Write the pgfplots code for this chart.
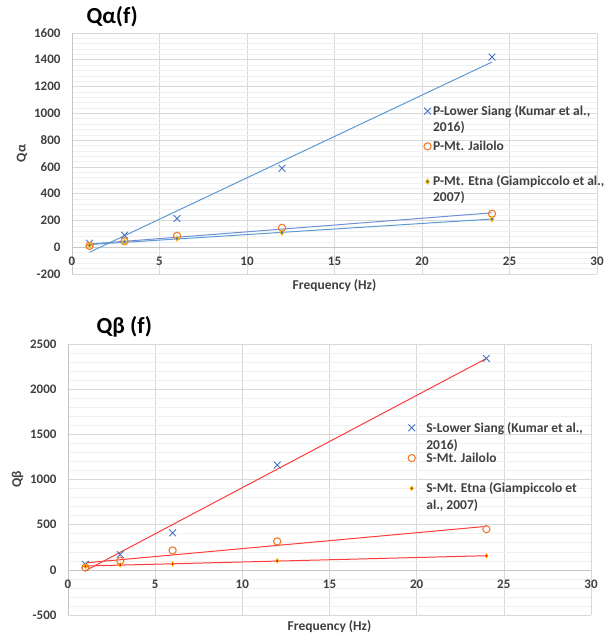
\documentclass[border=0pt]{standalone}
\usepackage{fontspec}
\setmainfont{Carlito}
\usepackage{pgfplots}
\usepackage{pgfplotstable}
\pgfplotsset{compat=1.18}
\definecolor{xblue}{HTML}{4472C4}
\definecolor{lblue}{HTML}{5B9BD5}
\definecolor{jblue}{HTML}{6F8FD8}
\definecolor{xorange}{HTML}{ED7D31}
\definecolor{xgold}{HTML}{FFC000}
\definecolor{tred}{HTML}{FF3B3B}
\newcommand{\twol}[3]{\makebox[0pt][l]{\raisebox{-#3}[0pt][0pt]{#2}}#1}

\pgfplotstableread{
f Q
1 30
3 90
6 215
12 590
24 1420
}\PLS
\pgfplotstableread{
f Q
1 10
3 45
6 85
12 145
24 250
}\PJ
\pgfplotstableread{
f Q
1 15
3 40
6 65
12 110
24 210
}\PE
\pgfplotstableread{
f Q
1 60
3 170
6 410
12 1160
24 2340
}\SLS
\pgfplotstableread{
f Q
1 25
3 100
6 215
12 315
24 450
}\SJ
\pgfplotstableread{
f Q
1 40
3 55
6 65
12 100
24 155
}\SE

\pgfplotsset{
  common/.style={
    scale only axis,
    xmin=0, xmax=30, xtick={0,5,...,30},
    axis x line*=middle, axis y line*=left,
    hide obscured x ticks=false, hide obscured y ticks=false,
    axis line style={draw=gray!45},
    major tick length=0pt, minor tick length=0pt,
    xmajorgrids, ymajorgrids, yminorgrids, minor y tick num=4,
    major grid style={draw=gray!30, line width=0.6pt},
    minor grid style={draw=gray!12, line width=0.5pt},
    tick label style={font=\bfseries\fontsize{13}{15}\selectfont, text=black!75},
    yticklabel style={xshift=-8pt},
    /pgf/number format/assume math mode=true,
    /pgf/number format/1000 sep={},
    xlabel={Frequency (Hz)},
    xlabel style={at={(rel axis cs:0.5,0)}, anchor=north, yshift=-2pt, font=\bfseries\fontsize{13.5}{15}\selectfont, text=black!75},
    ylabel style={font=\bfseries\fontsize{13.5}{15}\selectfont, text=black!75},
    legend cell align=left,
    legend style={draw=none, fill=none, font=\bfseries\fontsize{13.5}{15}\selectfont, text=black!75,
      inner sep=0pt},
    title style={font=\bfseries\fontsize{23}{26}\selectfont, text=black},
  },
}

\begin{document}
\begin{tikzpicture}
% top
\begin{axis}[common,
  at={(0pt,0pt)}, anchor=south west, width=525pt, height=241pt,
  ymin=-200, ymax=1600, ytick={-200,0,...,1600},
  xticklabel style={yshift=-6pt},
  ylabel={Qα},
  title={Qα(f)},
  title style={at={(rel axis cs:0.021,1)}, anchor=base west, yshift=3pt},
  legend style={at={(rel axis cs:0.670,0.709)}, anchor=north west, row sep=20pt},
]
\addplot[lblue, line width=1pt, forget plot] table[x=f, y={create col/linear regression={y=Q}}] {\PLS};
\addplot[jblue, line width=1pt, forget plot] table[x=f, y={create col/linear regression={y=Q}}] {\PJ};
\addplot[lblue, line width=1pt, forget plot] table[x=f, y={create col/linear regression={y=Q}}] {\PE};
\addplot[only marks, mark=x, mark size=4.8pt, xblue, mark options={line width=0.9pt}] table[x=f,y=Q] {\PLS};
\addlegendentry{\twol{P-Lower Siang (Kumar et al.,}{2016)}{16pt}}
\addplot[only marks, mark=o, mark size=3.6pt, xorange, mark options={line width=1.1pt}] table[x=f,y=Q] {\PJ};
\addlegendentry{P-Mt. Jailolo}
\addplot[only marks, mark=diamond*, mark size=2.6pt, mark options={draw=xgold, fill=xblue, line width=0.8pt}] table[x=f,y=Q] {\PE};
\addlegendentry{\twol{P-Mt. Etna (Giampiccolo et al.,}{2007)}{16pt}}
\end{axis}
% bottom
\begin{axis}[common,
  at={(-4pt,-341pt)}, anchor=south west, width=523pt, height=271pt,
  ymin=-500, ymax=2500, ytick={-500,0,...,2500},
  xticklabel style={yshift=-7pt},
  ylabel={Qβ},
  title={Qβ (f)},
  title style={at={(rel axis cs:0.048,1)}, anchor=base west, yshift=5pt},
  legend style={at={(rel axis cs:0.650,0.720)}, anchor=north west, row sep=15pt,
    /tikz/every odd column/.append style={column sep=9pt}},
]
\addplot[tred, line width=1pt, forget plot] table[x=f, y={create col/linear regression={y=Q}}] {\SLS};
\addplot[tred, line width=1pt, forget plot] table[x=f, y={create col/linear regression={y=Q}}] {\SJ};
\addplot[tred, line width=1pt, forget plot] table[x=f, y={create col/linear regression={y=Q}}] {\SE};
\addplot[only marks, mark=x, mark size=4.8pt, xblue, mark options={line width=0.9pt}] table[x=f,y=Q] {\SLS};
\addlegendentry{\twol{S-Lower Siang (Kumar et al.,}{2016)}{17pt}}
\addplot[only marks, mark=o, mark size=3.6pt, xorange, mark options={line width=1.1pt}] table[x=f,y=Q] {\SJ};
\addlegendentry{S-Mt. Jailolo}
\addplot[only marks, mark=diamond*, mark size=2.2pt, mark options={draw=xgold, fill=red, line width=0.7pt}] table[x=f,y=Q] {\SE};
\addlegendentry{\twol{S-Mt. Etna (Giampiccolo et}{al., 2007)}{17pt}}
\end{axis}
\pgfresetboundingbox
\useasboundingbox (-72pt,-360pt) rectangle (542pt,274pt);
\end{tikzpicture}
\end{document}
